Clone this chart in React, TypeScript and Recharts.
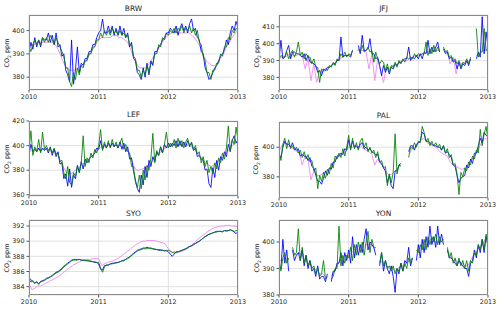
import React from 'react';
import { LineChart, Line, XAxis, YAxis, CartesianGrid } from 'recharts';

// time grids: 36 samples per year (blue/green), 24 per year (violet)
const T36 = Array.from({ length: 109 }, (_, i) => 2010 + i / 36);
const T24 = Array.from({ length: 73 }, (_, i) => 2010 + i / 24);
const YEARS = [2010, 2011, 2012, 2013];

type V = number | null;

// ---- BRW ----
const BRW_BLUE: V[] = [
  391, 395, 392, 397, 393, 396, 393, 397, 396, 396, 399, 395, 398, 394, 399, 393, 394, 389, 390, 383, 381, 378, 396, 377, 383, 393, 382, 386, 385, 388, 388, 391, 391, 394, 394, 397,
  399, 400, 405, 399, 399, 402, 399, 402, 398, 401, 398, 402, 398, 401, 397, 399, 393, 395, 388, 387, 382, 381, 379, 384, 380, 386, 381, 387, 385, 391, 391, 393, 394, 396, 397, 399,
  399, 401, 400, 399, 402, 398, 401, 403, 400, 402, 399, 403, 405, 400, 401, 397, 396, 391, 390, 384, 382, 379, 380, 382, 384, 385, 387, 389, 390, 392, 396, 394, 399, 402, 400, 404,
  401,
];
const BRW_GREEN: V[] = [
  393, 391, 394, 396, 394, 396, 394, 397, 395, 397, 395, 398, 396, 394, 397, 395, 393, 391, 389, 384, 384, 378, 376, 382, 379, 384, 381, 385, 384, 387, 387, 390, 390, 393, 393, 396,
  396, 399, 397, 400, 398, 400, 398, 401, 399, 400, 398, 400, 398, 399, 397, 398, 394, 394, 389, 388, 383, 383, 380, 383, 381, 385, 382, 386, 386, 390, 390, 394, 393, 397, 396, 399,
  398, 400, 399, 401, 399, 401, 400, 402, 399, 401, 400, 402, 399, 401, 398, 400, 395, 394, 389, 387, 382, 382, 379, 383, 383, 386, 386, 390, 389, 393, 393, 397, 396, 400, 399, 401,
  400,
];
const BRW_VIOLET: V[] = [
  393, 394, 394, 395, 395, 395, 395, 395, 395, 394, 392, 389, 386, 384, 383, 383, 383, 384, 385, 386, 388, 390, 392, 394,
  396, 397, 397, 397, 397, 398, 398, 397, 397, 396, 395, 392, 389, 386, 384, 384, 384, 385, 387, 389, 391, 393, 395, 397,
  398, 399, 399, 399, 399, 399, 399, 399, 398, 397, 395, 393, 390, 387, 386, 385, 385, 386, 388, 390, 393, 395, 397, 399,
  400,
];

// ---- JFJ ----
const JFJ_BLUE: V[] = [
  390, 402, 391, 392, 396, 399, 391, 395, 395, 394, 394, 393, 392, 394, 390, 393, 389, 389, 388, 387, 383, 384, 381, 385, 384, 386, 386, 387, 388, 388, 390, 390, 404, 392, 393, 393,
  393, 392, 396, null, null, 399, 394, 405, 396, 396, 397, 403, 394, 394, 391, 392, 387, 381, 387, 383, 386, 382, 386, 385, 388, 387, 389, 389, 390, 391, 391, 398, 390, 392, 391, 393,
  391, 394, 391, 395, 394, 402, 394, 398, 395, 398, 401, 395, null, 397, 394, 395, 391, 392, 389, 390, 385, 389, 385, 388, 387, 390, 387, 391, null, null, 391, 395, 392, 416, 394, 407,
  398,
];
const JFJ_GREEN: V[] = [
  391, 393, 392, 392, 395, 391, 394, 396, 392, 395, 401, 393, 395, 391, 394, 392, 392, 388, 391, 386, 386, 377, 385, 384, 385, 384, 387, 386, 389, 387, 391, 390, 394, 392, 395, 392,
  394, 393, 396, null, null, 397, 395, 399, 395, 396, 398, 395, 396, 389, 395, 391, 388, 390, 389, 384, 388, 383, 387, 386, 389, 386, 390, 388, 391, 389, 392, 391, 392, 391, 394, 392,
  394, 393, 394, 394, 401, 393, 397, 394, 399, 395, 398, 395, null, 398, 395, 396, 392, 393, 390, 391, 388, 390, 386, 389, 388, 391, 388, 392, null, null, 409, 392, 395, 395, 409, 396,
  397,
];
const JFJ_VIOLET: V[] = [
  391, 392, 392, 393, 394, 393, 393, 394, 393, 385, 391, 378, 388, 377, 384, 383, 384, 385, 387, 388, 390, 391, 392, 393,
  393, 394, null, 396, 396, 396, 395, 385, 394, 378, 391, 384, 377, 386, 385, 387, 387, 388, 389, 390, 390, 391, 392, 393,
  393, 394, 394, 395, 396, 396, 396, 396, null, 396, 395, 388, 392, 382, 389, 388, 389, 389, 390, null, 393, 394, 396, 396,
  396,
];

// ---- LEF ----
const LEF_BLUE: V[] = [
  393, 401, 395, 397, 395, 398, 395, 398, 396, 398, 394, 399, 392, 397, 391, 395, 385, 386, 373, 377, 367, 381, 366, 376, 373, 384, 378, 387, 381, 389, 386, 389, 391, 392, 394, 398,
  397, 404, 397, 401, 398, 402, 399, 402, 399, 401, 398, 403, 397, 402, 395, 399, 389, 390, 379, 372, 365, 362, 376, 368, 383, 374, 388, 383, 391, 387, 395, 392, 399, 394, 401, 398,
  402, 399, 402, 400, 404, 399, 404, 399, 403, 399, 404, 400, 402, 396, 398, 391, 392, 389, 388, 380, 381, 369, 366, 382, 374, 388, 380, 391, 388, 395, 391, 401, 395, 404, 408, 402,
  405,
];
const LEF_GREEN: V[] = [
  395, 412, 392, 399, 395, 405, 394, 411, 397, 400, 396, 398, 394, 398, 393, 394, 387, 388, 378, 373, 383, 370, 368, 378, 375, 383, 378, 386, 408, 383, 390, 386, 394, 390, 397, 394,
  400, 413, 396, 403, 398, 404, 398, 405, 399, 403, 398, 402, 406, 397, 401, 395, 394, 383, 383, 370, 366, 376, 365, 380, 372, 384, 380, 390, 410, 386, 396, 392, 399, 394, 401, 411,
  398, 402, 399, 405, 398, 406, 400, 404, 398, 403, 406, 399, 403, 397, 400, 393, 395, 386, 391, 383, 388, 378, 383, 377, 386, 381, 390, 386, 394, 389, 398, 416, 396, 405, 401, 415,
  404,
];
const LEF_VIOLET: V[] = [
  395, 396, 397, 397, 397, 397, 397, 396, 395, 395, 392, 387, 382, 378, 377, 378, 380, 382, 384, 386, 388, 390, 392, 395,
  397, 399, 399, 400, 400, 400, 400, 400, 399, 398, 396, 391, 384, 380, 380, 381, 382, 384, 386, 389, 392, 394, 396, 398,
  399, 400, 401, 401, 401, 401, 401, 400, 399, 397, 394, 391, 388, 386, 384, 383, 385, 387, 389, 391, 394, 397, 400, 402,
  403,
];

// ---- PAL ----
const PAL_BLUE: V[] = [
  395, 393, 400, 404, 402, 402, 400, 403, 399, 398, 399, 394, 395, 394, 394, 391, 393, 387, 386, 381, 377, 377, 375, 379, 384, 381, 386, 385, 390, 390, 394, 394, 396, 395, 399, 398,
  405, 399, 404, 400, 401, 399, 402, 403, 399, 400, 398, 399, 397, 396, 395, 395, 390, 389, 386, 384, 376, 381, 374, 372, 384, 384, 388, 389, null, null, null, 397, 401, 401, 398, 402,
  403, 404, 410, 409, 404, 404, 403, 402, 401, 401, 400, 400, 398, 401, 396, 397, 395, 393, 388, 387, 381, 376, 379, 380, 381, 388, 386, 392, 389, 396, 396, 401, 406, 403, 410, 408,
  407,
];
const PAL_GREEN: V[] = [
  397, 391, 402, 406, 399, 405, 399, 401, 398, 400, 396, 398, 393, 397, 392, 395, 390, 391, 384, 386, 372, 381, 377, 383, 379, 385, 382, 389, 386, 394, 392, 396, 393, 399, 394, 400,
  408, 398, 406, 399, 403, 398, 404, 406, 400, 403, 397, 400, 396, 398, 393, 397, 390, 391, 386, 387, 374, 382, 376, 383, 409, 382, 388, 387, null, null, null, 393, 400, 399, 403, 400,
  404, 403, 414, 410, 404, 406, 401, 404, 401, 403, 400, 402, 398, 401, 396, 399, 393, 395, 388, 389, 382, 368, 383, 380, 386, 384, 390, 388, 394, 392, 398, 396, 412, 401, 409, 414,
  405,
];
const PAL_VIOLET: V[] = [
  397, 401, 403, 401, 400, 399, 397, 396, 388, 394, 392, 378, 384, 381, 381, 382, 383, 385, 387, 390, 393, 394, 396, 397,
  400, 400, 400, 400, 401, 399, 398, 397, 395, 388, 392, 389, 386, 383, 381, 382, 384, 386, 388, null, null, 396, 399, 400,
  403, 405, 406, 403, 402, 401, 400, 398, 396, 395, 394, 390, 388, 387, 386, 385, 386, 388, 391, 393, 396, 400, 404, 406,
  405,
];

// ---- SYO ----
const SYO_BLUE: V[] = [
  385.2, 384.9, 384.7, 384.5, 384.6, 384.4, 384.7, 384.8, 384.9, 385.1, 385.2, 385.3, 385.5, 385.7, 385.9, 386.0, 386.2, 386.4, 386.7, 386.9, 387.1, 387.3, 387.5, 387.6, 387.6, 387.6, 387.6, 387.5, 387.5, 387.5, 387.4, 387.4, 387.3, 387.3, 387.2, 387.2,
  387.0, 386.3, 386.2, 386.8, 386.8, 386.9, 387.0, 387.1, 387.1, 387.2, 387.2, 387.3, 387.4, 387.5, 387.6, 387.8, 387.9, 388.2, 388.4, 388.6, 388.8, 388.9, 389.0, 389.1, 389.1, 389.2, 389.1, 389.1, 389.0, 388.9, 388.9, 388.8, 388.8, 388.8, 388.7, 388.8,
  388.6, 388.3, 388.0, 388.3, 388.6, 388.6, 388.7, 388.8, 388.9, 389.0, 389.2, 389.3, 389.4, 389.6, 389.7, 389.9, 390.0, 390.2, 390.4, 390.6, 390.8, 390.9, 391.0, 391.1, 391.2, 391.3, 391.3, 391.3, 391.3, 391.4, 391.4, 391.4, 391.5, 391.4, 391.2, 391.0,
  391.3,
];
const SYO_GREEN: V[] = [
  385.0, 384.6, 384.8, 384.4, 384.7, 384.3, 384.6, 384.7, 384.8, 385.0, 385.1, 385.3, 385.4, 385.6, 385.8, 385.9, 386.1, 386.3, 386.6, 386.8, 387.0, 387.2, 387.4, 387.5, 387.5, 387.5, 387.6, 387.5, 387.5, 387.4, 387.5, 387.4, 387.4, 387.3, 387.3, 387.2,
  387.2, 386.5, 385.9, 386.6, 386.9, 386.8, 387.0, 387.0, 387.1, 387.1, 387.2, 387.3, 387.4, 387.4, 387.6, 387.7, 387.9, 388.1, 388.3, 388.5, 388.7, 388.8, 388.9, 389.0, 389.0, 389.0, 389.1, 389.0, 389.0, 389.0, 388.9, 388.9, 388.9, 388.8, 388.8, 388.7,
  388.8, 388.7, 388.5, 388.6, 388.5, 388.6, 388.7, 388.8, 388.9, 389.0, 389.1, 389.3, 389.4, 389.5, 389.7, 389.8, 390.0, 390.2, 390.4, 390.6, 390.7, 390.9, 391.0, 391.1, 391.2, 391.2, 391.3, 391.3, 391.2, 391.4, 391.3, 391.4, 391.5, 391.4, 391.3, 391.4,
  391.4,
];
const SYO_VIOLET: V[] = [
  384.4, 383.6, 383.8, 384.1, 384.1, 384.3, 384.5, 384.7, 384.9, 385.1, 385.3, 385.6, 385.9, 386.2, 386.5, 386.8, 387.0, 387.2, 387.4, 387.5, 387.6, 387.6, 387.7, 387.7,
  387.7, 386.8, 387.0, 387.2, 387.3, 387.4, 387.6, 387.8, 388.1, 388.4, 388.7, 389.0, 389.3, 389.6, 389.8, 390.0, 390.0, 390.1, 390.1, 390.1, 390.0, 389.9, 389.8, 389.6,
  389.0, 388.6, 388.4, 388.5, 388.6, 388.7, 388.9, 389.1, 389.5, 389.8, 390.2, 390.5, 390.8, 391.1, 391.4, 391.6, 391.8, 391.9, 392.0, 392.0, 392.1, 392.1, 392.0, 392.0,
  391.9,
];

// ---- YON ----
const YON_BLUE: V[] = [
  391, 390, 401, 392, 397, 389, null, 397, 393, 395, 396, 393, 397, 391, 395, 390, 393, 389, 390, 387, 391, 386, 387, 387, 385, 388, null, 385, 389, 389, 392, 392, 396, 391, 396, 393,
  397, 392, 402, 394, 399, 395, 399, 396, 401, 405, 397, 400, 399, 398, 395, null, 391, 396, 389, 393, 390, 388, 391, 387, 381, 390, 388, 392, 389, 393, 392, 398, 391, 394, null, 393,
  399, 394, 401, 396, 402, 398, 406, 399, 402, 398, 406, 399, 403, 399, null, 397, 394, 394, 393, 392, 391, 393, 392, 391, 390, 390, 387, 392, 393, 397, 394, 399, 396, 401, 396, 402,
  399,
];
const YON_GREEN: V[] = [
  393, 389, 394, 396, 392, 394, null, 398, 395, 396, 405, 393, 398, 392, 395, 391, 393, 390, 391, 388, 390, 387, 388, 393, 386, 387, null, 386, 387, 390, 390, 406, 391, 395, 392, 395,
  394, 398, 393, 399, 395, 400, 396, 400, 395, 400, 404, 396, 401, 398, 398, null, 392, 396, 391, 393, 390, 391, 389, 391, 388, 390, 389, 392, 389, 392, 390, 394, 392, 394, null, 397,
  396, 399, 397, 401, 397, 402, 399, 402, 400, 403, 399, 402, 400, 401, null, 398, 394, 396, 392, 394, 391, 394, 391, 393, 390, 393, 389, 393, 392, 396, 395, 399, 397, 401, 397, 403,
  398,
];
const YON_VIOLET: V[] = [
  393, 393, 394, 393, null, 396, 395, 396, 395, 393, 392, 391, 390, 389, 388, 388, 387, null, 387, 389, 391, 393, 393, 394,
  395, 396, 397, 397, 398, 398, 399, 399, 399, 397, null, 393, 392, 391, 390, 390, 389, 390, 391, 391, 392, 393, 394, null,
  397, 398, 399, 399, 401, 401, 400, 400, 400, null, 397, 395, 393, 393, 392, 392, 391, 391, 393, 395, 396, 398, 399, 401,
  399,
];

const rows = (ts: number[], vs: V[]) => ts.map((t, i) => ({ t, v: vs[i] }));

const FONT = 'DejaVu Sans';
const PW = 209;
const TICK = { fontSize: 6.4, fill: '#262626', fontFamily: FONT };

interface PanelProps {
  px: number;
  py: number;
  ph: number;
  title: string;
  domain: [number, number];
  ticks: number[];
  blue: V[];
  green: V[];
  violet: V[];
}

function Panel({ px, py, ph, title, domain, ticks, blue, green, violet }: PanelProps) {
  const yw = 29;
  const mt = 6;
  return (
    <>
      <div style={{ position: 'absolute', left: px - yw, top: py - mt }}>
        <LineChart width={yw + PW + 14} height={mt + ph + 16} margin={{ top: mt, right: 14, bottom: 0, left: 0 }}>
          <CartesianGrid stroke="#d4d4d4" strokeWidth={0.7} />
          <XAxis
            type="number"
            dataKey="t"
            domain={[2010, 2013]}
            ticks={YEARS}
            interval={0}
            allowDataOverflow
            height={16}
            axisLine={false}
            tickSize={2.5}
            tickLine={{ stroke: '#555' }}
            tick={TICK}
          />
          <YAxis
            type="number"
            domain={domain}
            ticks={ticks}
            interval={0}
            allowDataOverflow
            width={yw}
            axisLine={false}
            tickSize={2.5}
            tickLine={{ stroke: '#555' }}
            tick={TICK}
          />
          <Line data={rows(T24, violet)} dataKey="v" stroke="#ee82ee" strokeWidth={1} strokeOpacity={0.85} dot={false} isAnimationActive={false} />
          <Line data={rows(T36, blue)} dataKey="v" stroke="#0000ff" strokeWidth={1} strokeOpacity={0.85} dot={false} isAnimationActive={false} />
          <Line data={rows(T36, green)} dataKey="v" stroke="#008000" strokeWidth={1} strokeOpacity={0.85} dot={false} isAnimationActive={false} />
        </LineChart>
      </div>
      <div
        style={{
          position: 'absolute', left: px, top: py, width: PW, height: ph,
          boxSizing: 'border-box', border: '1px solid #8a8a8a', pointerEvents: 'none',
        }}
      />
      <div
        style={{
          position: 'absolute', left: px, top: py - 11, width: PW, textAlign: 'center',
          fontFamily: FONT, fontSize: 7.5, lineHeight: '9px', color: '#262626',
        }}
      >
        {title}
      </div>
      <div
        style={{
          position: 'absolute', left: px - 23 - ph / 2, top: py + ph / 2 - 4, width: ph, height: 8,
          textAlign: 'center', transform: 'rotate(-90deg)', fontFamily: FONT, fontSize: 6.4,
          lineHeight: '8px', color: '#262626', whiteSpace: 'nowrap',
        }}
      >
        CO<sub style={{ fontSize: 4.6 }}>2</sub> ppm
      </div>
    </>
  );
}

export default function App() {
  return (
    <div style={{ position: 'absolute', left: 0, top: 0, width: 500, height: 312, background: '#fff', overflow: 'hidden' }}>
      <Panel px={29} py={15} ph={75} title="BRW" domain={[374.5, 406.7]} ticks={[380, 390, 400]} blue={BRW_BLUE} green={BRW_GREEN} violet={BRW_VIOLET} />
      <Panel px={279} py={15} ph={75} title="JFJ" domain={[372.5, 417]} ticks={[380, 390, 400, 410]} blue={JFJ_BLUE} green={JFJ_GREEN} violet={JFJ_VIOLET} />
      <Panel px={29} py={121} ph={75} title="LEF" domain={[359, 420]} ticks={[360, 380, 400, 420]} blue={LEF_BLUE} green={LEF_GREEN} violet={LEF_VIOLET} />
      <Panel px={279} py={122} ph={76} title="PAL" domain={[365.7, 417]} ticks={[380, 400]} blue={PAL_BLUE} green={PAL_GREEN} violet={PAL_VIOLET} />
      <Panel px={29} py={220} ph={75} title="SYO" domain={[382.9, 392.8]} ticks={[384, 386, 388, 390, 392]} blue={SYO_BLUE} green={SYO_GREEN} violet={SYO_VIOLET} />
      <Panel px={279} py={220} ph={75} title="YON" domain={[380, 408.3]} ticks={[380, 390, 400]} blue={YON_BLUE} green={YON_GREEN} violet={YON_VIOLET} />
    </div>
  );
}
